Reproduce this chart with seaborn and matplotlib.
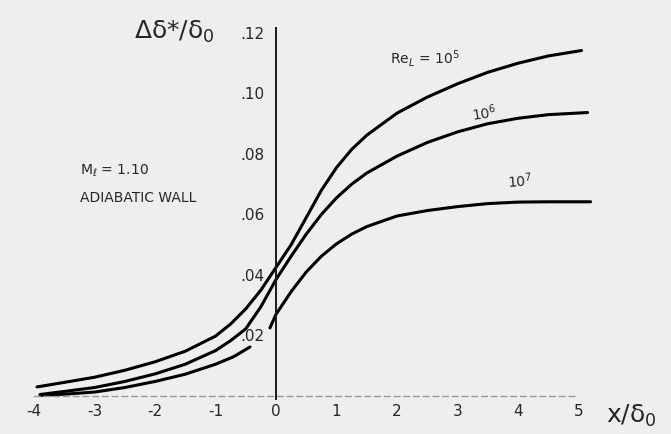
# Displacement thickness growth through shock / boundary layer interaction
import numpy as np
import pandas as pd
import matplotlib.pyplot as plt
import seaborn as sns

# ## data

# Re_L = 10^5
x_re5 = [-3.95, -3.5, -3, -2.5, -2, -1.5, -1, -0.75, -0.5, -0.25, 0, 0.25, 0.5, 0.75, 1, 1.25, 1.5, 2, 2.5, 3,
         3.5, 4, 4.5, 5.05]
y_re5 = [0.003, 0.0045, 0.0062, 0.0085, 0.0113, 0.0148, 0.0198, 0.0238, 0.0288, 0.0350, 0.0425, 0.0500, 0.0590,
         0.0680, 0.0755, 0.0815, 0.0862, 0.0935, 0.0988, 0.1032, 0.1070, 0.1100, 0.1124, 0.1142]

# Re_L = 10^6
x_re6 = [-3.9, -3.5, -3, -2.5, -2, -1.5, -1, -0.75, -0.5, -0.25, 0, 0.25, 0.5, 0.75, 1, 1.25, 1.5, 2, 2.5, 3,
         3.5, 4, 4.5, 5.15]
y_re6 = [0.0005, 0.0015, 0.0028, 0.0048, 0.0073, 0.0105, 0.0150, 0.0183, 0.0222, 0.0295, 0.0385, 0.0462, 0.0535,
         0.0600, 0.0655, 0.0700, 0.0737, 0.0793, 0.0838, 0.0873, 0.0900, 0.0918, 0.0930, 0.0937]

# Re_L = 10^7 (drawn in two pieces in the original)
x_re7_a = [-3.9, -3.5, -3, -2.5, -2, -1.5, -1, -0.7, -0.43]
y_re7_a = [0.0002, 0.0006, 0.0013, 0.0028, 0.0048, 0.0072, 0.0105, 0.0130, 0.0162]
x_re7_b = [-0.1, 0, 0.25, 0.5, 0.75, 1, 1.25, 1.5, 2, 2.5, 3, 3.5, 4, 4.5, 5.2]
y_re7_b = [0.0225, 0.0270, 0.0345, 0.0410, 0.0462, 0.0503, 0.0535, 0.0560, 0.0595, 0.0613, 0.0626, 0.0636,
           0.0641, 0.0642, 0.0642]

x_ticks = [-4, -3, -2, -1, 0, 1, 2, 3, 4, 5]
x_labels = ["-4", "-3", "-2", "-1", "0", "1", "2", "3", "4", "5"]
y_ticks = [0.02, 0.04, 0.06, 0.08, 0.10, 0.12]
y_labels = [".02", ".04", ".06", ".08", ".10", ".12"]

# build one long table for seaborn
curves = pd.concat([
    pd.DataFrame({"x": x_re5, "d": y_re5, "curve": "re5"}),
    pd.DataFrame({"x": x_re6, "d": y_re6, "curve": "re6"}),
    pd.DataFrame({"x": x_re7_a, "d": y_re7_a, "curve": "re7a"}),
    pd.DataFrame({"x": x_re7_b, "d": y_re7_b, "curve": "re7b"}),
])

# ## plot

sns.set_style("white")
plt.rcParams["font.family"] = ["DejaVu Sans"]

fig = plt.figure(figsize=(6.71, 4.34), dpi=100)
fig.patch.set_facecolor("#eeeeec")
ax = fig.add_axes([0, 0, 1, 1])
ax.set_facecolor("#eeeeec")

sns.lineplot(data=curves, x="x", y="d", units="curve", estimator=None, sort=False,
             color="black", linewidth=2.2, ax=ax, legend=False)
for ln in ax.lines:
    ln.set_solid_capstyle("round")
    ln.set_solid_joinstyle("round")

ax.set_xlim(-4.562, 6.529)
ax.set_ylim(-0.01256, 0.1309)

# axes crossing at the origin
for s in ["top", "right"]:
    ax.spines[s].set_visible(False)
ax.spines["left"].set_position(("data", 0))
ax.spines["left"].set_bounds(-0.001, 0.1215)
ax.spines["left"].set_linewidth(1.4)
ax.spines["left"].set_color("#1a1a1a")
ax.spines["bottom"].set_position(("data", 0))
ax.spines["bottom"].set_bounds(-4, 5)
ax.spines["bottom"].set_linestyle((0, (4, 3)))
ax.spines["bottom"].set_linewidth(1.0)
ax.spines["bottom"].set_color("#9a9a9a")

ax.set_xticks(x_ticks)
ax.set_xticklabels(x_labels, fontsize=11)
ax.set_yticks(y_ticks)
ax.set_yticklabels(y_labels, fontsize=11)
ax.tick_params(axis="x", direction="in", length=7, width=1.2, color="#222222", pad=6)
ax.tick_params(axis="y", direction="inout", length=10, width=1.2, color="#222222", pad=3)
ax.set_xlabel("")
ax.set_ylabel("")

# axis titles and notes
ax.text(-1.68, 0.1205, r"Δδ*/δ$_{\rm 0}$", fontsize=18, ha="center", va="center")
ax.text(5.45, -0.0065, r"x/δ$_{\rm 0}$", fontsize=18, ha="left", va="center")
ax.text(-3.24, 0.0745, r"M$_\ell$ = 1.10", fontsize=10, ha="left", va="center")
ax.text(-3.24, 0.0655, "ADIABATIC WALL", fontsize=10, ha="left", va="center")
ax.text(1.88, 0.1115, r"Re$_L$ = 10$^5$", fontsize=10, ha="left", va="center")
ax.text(3.45, 0.0935, r"10$^6$", fontsize=10, ha="center", va="center", rotation=8)
ax.text(4.03, 0.0712, r"10$^7$", fontsize=10, ha="center", va="center", rotation=4)

fig.savefig("out.png", dpi=100, facecolor=fig.get_facecolor())
